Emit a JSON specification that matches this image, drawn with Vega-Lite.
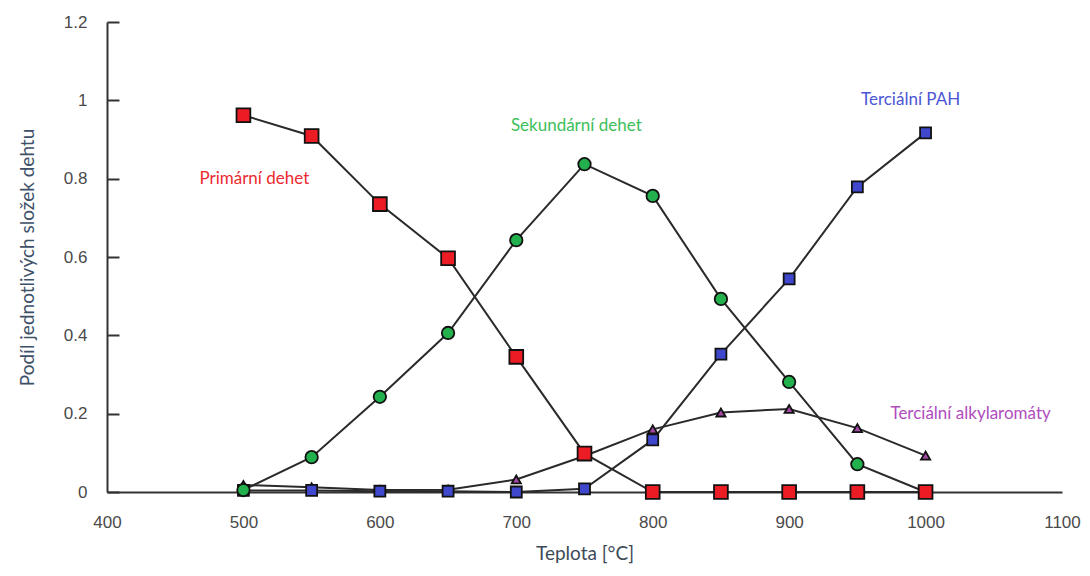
{
  "$schema": "https://vega.github.io/schema/vega-lite/v6.json",
  "autosize": "none",
  "width": 955,
  "height": 470,
  "padding": {"left": 107, "top": 22, "right": 28, "bottom": 84},
  "background": "white",
  "config": {"view": {"stroke": null}},
  "datasets": {
    "pts": [
      {"t": 500, "v": 0.962, "s": "Primární dehet"},
      {"t": 550, "v": 0.909, "s": "Primární dehet"},
      {"t": 600, "v": 0.735, "s": "Primární dehet"},
      {"t": 650, "v": 0.597, "s": "Primární dehet"},
      {"t": 700, "v": 0.345, "s": "Primární dehet"},
      {"t": 750, "v": 0.098, "s": "Primární dehet"},
      {"t": 800, "v": 0.0, "s": "Primární dehet"},
      {"t": 850, "v": 0.0, "s": "Primární dehet"},
      {"t": 900, "v": 0.0, "s": "Primární dehet"},
      {"t": 950, "v": 0.0, "s": "Primární dehet"},
      {"t": 1000, "v": 0.0, "s": "Primární dehet"},
      {"t": 500, "v": 0.005, "s": "Sekundární dehet"},
      {"t": 550, "v": 0.089, "s": "Sekundární dehet"},
      {"t": 600, "v": 0.243, "s": "Sekundární dehet"},
      {"t": 650, "v": 0.406, "s": "Sekundární dehet"},
      {"t": 700, "v": 0.643, "s": "Sekundární dehet"},
      {"t": 750, "v": 0.837, "s": "Sekundární dehet"},
      {"t": 800, "v": 0.756, "s": "Sekundární dehet"},
      {"t": 850, "v": 0.493, "s": "Sekundární dehet"},
      {"t": 900, "v": 0.281, "s": "Sekundární dehet"},
      {"t": 950, "v": 0.071, "s": "Sekundární dehet"},
      {"t": 1000, "v": 0.0, "s": "Sekundární dehet"},
      {"t": 500, "v": 0.018, "s": "Terciální alkylaromáty"},
      {"t": 550, "v": 0.012, "s": "Terciální alkylaromáty"},
      {"t": 600, "v": 0.005, "s": "Terciální alkylaromáty"},
      {"t": 650, "v": 0.006, "s": "Terciální alkylaromáty"},
      {"t": 700, "v": 0.032, "s": "Terciální alkylaromáty"},
      {"t": 750, "v": 0.092, "s": "Terciální alkylaromáty"},
      {"t": 800, "v": 0.16, "s": "Terciální alkylaromáty"},
      {"t": 850, "v": 0.203, "s": "Terciální alkylaromáty"},
      {"t": 900, "v": 0.212, "s": "Terciální alkylaromáty"},
      {"t": 950, "v": 0.163, "s": "Terciální alkylaromáty"},
      {"t": 1000, "v": 0.093, "s": "Terciální alkylaromáty"},
      {"t": 500, "v": 0.004, "s": "Terciální PAH"},
      {"t": 550, "v": 0.004, "s": "Terciální PAH"},
      {"t": 600, "v": 0.002, "s": "Terciální PAH"},
      {"t": 650, "v": 0.002, "s": "Terciální PAH"},
      {"t": 700, "v": 0.0, "s": "Terciální PAH"},
      {"t": 750, "v": 0.008, "s": "Terciální PAH"},
      {"t": 800, "v": 0.133, "s": "Terciální PAH"},
      {"t": 850, "v": 0.352, "s": "Terciální PAH"},
      {"t": 900, "v": 0.544, "s": "Terciální PAH"},
      {"t": 950, "v": 0.779, "s": "Terciální PAH"},
      {"t": 1000, "v": 0.917, "s": "Terciální PAH"}
    ],
    "labels": [
      {"t": 508, "v": 0.80, "s": "Primární dehet"},
      {"t": 744, "v": 0.935, "s": "Sekundární dehet"},
      {"t": 989, "v": 1.0, "s": "Terciální PAH"},
      {"t": 1033, "v": 0.20, "s": "Terciální alkylaromáty"}
    ]
  },
  "layer": [
    {
      "data": {"name": "pts"},
      "mark": {"type": "line", "color": "#2a2a2a", "strokeWidth": 2},
      "encoding": {
        "x": {
          "field": "t", "type": "quantitative",
          "scale": {"domain": [400, 1100], "nice": false, "zero": false},
          "axis": {
            "title": "Teplota [°C]", "format": "d",
            "values": [400, 500, 600, 700, 800, 900, 1000, 1100],
            "grid": false, "ticks": false, "domainColor": "#333", "domainWidth": 2,
            "labelFont": "Liberation Sans", "labelFontSize": 17, "labelColor": "#4a4a4a",
            "labelPadding": 22, "labelFlush": false,
            "titleFont": "Lato", "titleFontSize": 19, "titleFontWeight": "normal", "titleColor": "#3d4a55",
            "titlePadding": 14
          }
        },
        "y": {
          "field": "v", "type": "quantitative",
          "scale": {"domain": [0, 1.2], "nice": false},
          "axis": {
            "title": "Podíl jednotlivých složek dehtu", "format": "~g",
            "values": [0, 0.2, 0.4, 0.6, 0.8, 1, 1.2],
            "grid": false, "tickSize": -12, "tickColor": "#333", "tickWidth": 2,
            "domainColor": "#333", "domainWidth": 2,
            "labelFont": "Liberation Sans", "labelFontSize": 17, "labelColor": "#4a4a4a",
            "labelPadding": 32, "labelFlush": false,
            "titleFont": "Lato", "titleFontSize": 19, "titleFontWeight": "normal", "titleColor": "#3d5068",
            "titlePadding": 26
          }
        },
        "detail": {"field": "s"}
      }
    },
    {
      "data": {"name": "pts"},
      "mark": {"type": "point", "filled": true, "stroke": "#111", "strokeWidth": 1.8, "opacity": 1},
      "encoding": {
        "x": {"field": "t", "type": "quantitative"},
        "y": {"field": "v", "type": "quantitative"},
        "order": {"field": "s", "sort": "descending"},
        "fill": {
          "field": "s", "type": "nominal", "legend": null,
          "scale": {
            "domain": ["Primární dehet", "Sekundární dehet", "Terciální PAH", "Terciální alkylaromáty"],
            "range": ["#ec1c24", "#22b14c", "#3f48cc", "#a349a4"]
          }
        },
        "shape": {
          "field": "s", "type": "nominal", "legend": null,
          "scale": {
            "domain": ["Primární dehet", "Sekundární dehet", "Terciální PAH", "Terciální alkylaromáty"],
            "range": ["square", "circle", "square", "triangle-up"]
          }
        },
        "size": {
          "field": "s", "type": "nominal", "legend": null,
          "scale": {
            "domain": ["Primární dehet", "Sekundární dehet", "Terciální PAH", "Terciální alkylaromáty"],
            "range": [190, 85, 140, 150]
          }
        }
      }
    },
    {
      "data": {"name": "labels"},
      "mark": {"type": "text", "font": "Lato", "fontSize": 17, "align": "center", "baseline": "middle"},
      "encoding": {
        "x": {"field": "t", "type": "quantitative"},
        "y": {"field": "v", "type": "quantitative"},
        "text": {"field": "s"},
        "color": {
          "field": "s", "type": "nominal", "legend": null,
          "scale": {
            "domain": ["Primární dehet", "Sekundární dehet", "Terciální PAH", "Terciální alkylaromáty"],
            "range": ["#ea2a30", "#3cbf5a", "#4b55d6", "#b04cbe"]
          }
        }
      }
    }
  ]
}
